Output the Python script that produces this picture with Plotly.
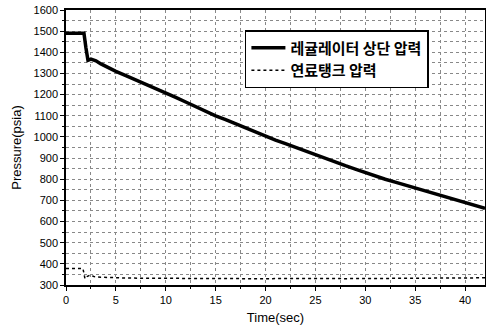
import plotly.graph_objects as go

# Regulator upstream pressure (psia)
reg_t = [0, 1.8, 2.0, 2.2, 2.5, 3.0, 3.5, 4, 5, 6, 7, 8, 9, 10, 11, 12, 13, 14, 15, 16,
         17, 18, 19, 20, 21, 22, 23, 24, 25, 26, 27, 28, 29, 30, 31, 32, 33, 34, 35, 36,
         37, 38, 39, 40, 41, 42]
reg_p = [1490, 1490, 1420, 1362, 1368, 1360, 1345, 1333, 1310, 1290, 1270, 1250, 1228, 1207,
         1187, 1165, 1143, 1122, 1100, 1082, 1062, 1042, 1023, 1004, 985, 968, 950, 932, 915,
         898, 880, 864, 848, 831, 816, 800, 786, 772, 758, 745, 732, 718, 704, 690, 677, 662]

# Fuel tank pressure (psia)
tank_t = [0, 1.7, 1.9, 2.1, 2.4, 2.8, 3.5, 4, 5, 6, 8, 10, 12, 14, 16, 18, 20, 22, 24, 26,
          28, 30, 32, 34, 36, 38, 40, 42]
tank_p = [378, 378, 330, 340, 347, 340, 337, 336, 334, 333, 332, 331, 331, 330, 331, 330,
          330, 331, 330, 331, 330, 331, 332, 332, 333, 333, 334, 334]

name_reg = "레귤레이터 상단 압력"
name_tank = "연료탱크 압력"

fig = go.Figure()
fig.add_trace(go.Scatter(x=reg_t, y=reg_p, mode="lines", name=name_reg,
                         line=dict(color="black", width=3.5)))
fig.add_trace(go.Scatter(x=tank_t, y=tank_p, mode="lines", name=name_tank,
                         line=dict(color="black", width=1.5, dash="dot")))

axis_font = dict(family="Liberation Sans, Arial", size=11, color="black")
fig.update_layout(
    width=486, height=333,
    margin=dict(l=66, r=1, t=10, b=48),
    paper_bgcolor="white", plot_bgcolor="white",
    font=dict(family="Liberation Sans, Arial", color="black"),
    legend=dict(x=0.427, y=0.927, xanchor="left", yanchor="top",
                bgcolor="white", bordercolor="black", borderwidth=1.5,
                font=dict(family="Noto Sans CJK KR", size=15, color="black", weight="bold"),
                itemwidth=34, tracegroupgap=0),
    showlegend=True,
)
fig.update_xaxes(
    range=[0, 42], tickvals=[0, 5, 10, 15, 20, 25, 30, 35, 40],
    showline=True, linecolor="black", linewidth=1.5, mirror=True,
    ticks="outside", ticklen=4, tickcolor="black", tickfont=axis_font,
    showgrid=True, gridcolor="#888", griddash="dot", gridwidth=1,
    minor=dict(dtick=2.5, ticks="outside", ticklen=2, tickcolor="black",
               showgrid=True, gridcolor="#888", griddash="dot", gridwidth=1),
    title=dict(text="Time(sec)", font=dict(family="Liberation Sans, Arial", size=13), standoff=8),
    zeroline=False, automargin=False,
)
fig.update_yaxes(
    range=[300, 1600], dtick=100,
    showline=True, linecolor="black", linewidth=1.5, mirror=True,
    ticks="outside", ticklen=4, tickcolor="black", tickfont=axis_font,
    showgrid=True, gridcolor="#888", griddash="dot", gridwidth=1,
    minor=dict(dtick=50, ticks="outside", ticklen=2, tickcolor="black",
               showgrid=True, gridcolor="#888", griddash="dot", gridwidth=1),
    title=dict(text="Pressure(psia)", font=dict(family="Liberation Sans, Arial", size=13), standoff=9),
    zeroline=False, automargin=False,
)

fig.write_html("out.html", config={"displayModeBar": False},
               post_script="document.body.style.margin='0';")
